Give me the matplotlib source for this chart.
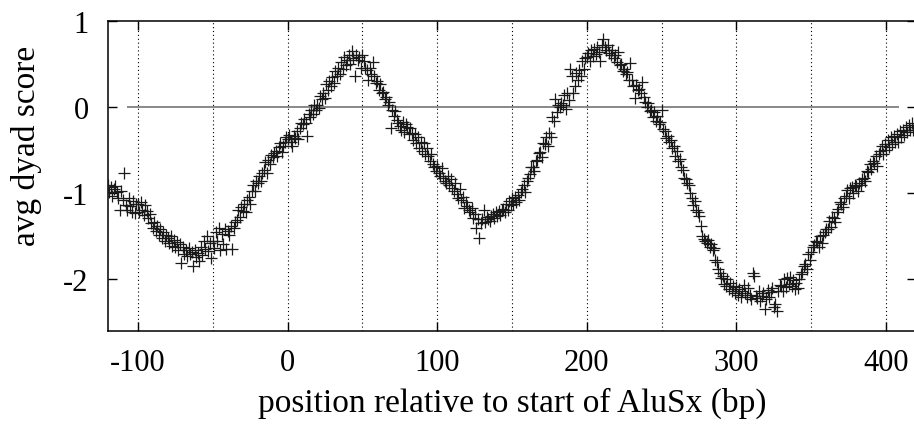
import numpy as np
import matplotlib
matplotlib.use("Agg")
import matplotlib.pyplot as plt

# positions (bp) relative to start of AluSx, one point per bp
x_start = -120
x_end = 418

# avg dyad score, 10 values per row starting at -120
scores = [
    -0.90, -0.98, -0.93, -1.03, -0.95, -0.92, -0.99, -1.05, -1.19, -0.97,   # -120
    -1.08, -0.76, -1.14, -1.20, -1.06, -1.15, -1.22, -1.09, -1.23, -1.12,   # -110
    -1.13, -1.22, -1.10, -1.19, -1.25, -1.14, -1.21, -1.29, -1.24, -1.35,   # -100
    -1.40, -1.33, -1.44, -1.38, -1.48, -1.42, -1.52, -1.45, -1.55, -1.48,   # -90
    -1.52, -1.58, -1.50, -1.61, -1.54, -1.63, -1.57, -1.66, -1.59, -1.81,   # -80
    -1.62, -1.70, -1.66, -1.73, -1.64, -1.71, -1.68, -1.85, -1.66, -1.74,   # -70
    -1.69, -1.79, -1.62, -1.72, -1.55, -1.65, -1.50, -1.67, -1.58, -1.75,   # -60
    -1.55, -1.64, -1.45, -1.56, -1.40, -1.66, -1.47, -1.59, -1.42, -1.65,   # -50
    -1.44, -1.48, -1.38, -1.65, -1.40, -1.33, -1.31, -1.20, -1.28, -1.16,   # -40
    -1.21, -1.13, -1.22, -1.08, -1.04, -1.12, -0.97, -0.90, -0.97, -0.86,   # -30
    -0.88, -0.80, -0.86, -0.76, -0.73, -0.64, -0.76, -0.61, -0.66, -0.56,   # -20
    -0.58, -0.53, -0.51, -0.57, -0.46, -0.42, -0.52, -0.45, -0.41, -0.35,   # -10
    -0.37, -0.32, -0.40, -0.45, -0.33, -0.36, -0.28, -0.37, -0.24, -0.19,   # 0
    -0.20, -0.14, -0.18, -0.34, -0.08, -0.12, -0.03, -0.08, 0.02, -0.03,    # 10
    0.03, -0.01, 0.13, 0.09, 0.16, 0.11, 0.27, 0.20, 0.30, 0.25,            # 20
    0.35, 0.28, 0.42, 0.36, 0.46, 0.39, 0.52, 0.44, 0.58, 0.49,             # 30
    0.55, 0.60, 0.50, 0.65, 0.57, 0.36, 0.60, 0.55, 0.58, 0.46,             # 40
    0.60, 0.53, 0.46, 0.43, 0.32, 0.46, 0.38, 0.52, 0.36, 0.28,             # 50
    0.30, 0.20, 0.27, 0.16, 0.18, 0.10, 0.12, 0.03, 0.06, -0.24,            # 60
    -0.03, -0.10, -0.04, -0.15, -0.18, -0.22, -0.26, -0.17, -0.29, -0.20,   # 70
    -0.23, -0.31, -0.24, -0.30, -0.38, -0.31, -0.42, -0.35, -0.47, -0.40,   # 80
    -0.51, -0.42, -0.54, -0.47, -0.57, -0.62, -0.55, -0.66, -0.69, -0.74,   # 90
    -0.68, -0.76, -0.80, -0.71, -0.82, -0.86, -0.88, -0.80, -0.90, -0.84,   # 100
    -0.94, -0.97, -0.88, -1.01, -1.05, -0.95, -1.08, -1.04, -1.17, -1.10,   # 110
    -1.15, -1.20, -1.22, -1.17, -1.29, -1.24, -1.40, -1.30, -1.52, -1.35,   # 120
    -1.30, -1.19, -1.33, -1.28, -1.30, -1.32, -1.26, -1.24, -1.29, -1.22,   # 130
    -1.27, -1.21, -1.25, -1.19, -1.18, -1.22, -1.13, -1.19, -1.09, -1.14,   # 140
    -1.06, -1.12, -1.04, -1.10, -1.02, -1.08, -0.98, -0.95, -0.90, -0.99,   # 150
    -0.86, -0.82, -0.78, -0.70, -0.70, -0.74, -0.62, -0.61, -0.53, -0.52,   # 160
    -0.58, -0.42, -0.43, -0.35, -0.45, -0.30, -0.35, -0.12, -0.16, 0.09,    # 170
    -0.06, 0.02, 0.00, 0.05, 0.03, 0.14, -0.02, 0.16, 0.08, 0.44,           # 180
    0.36, 0.16, 0.24, 0.40, 0.32, 0.43, 0.36, 0.54, 0.44, 0.57,             # 190
    0.58, 0.63, 0.54, 0.66, 0.59, 0.68, 0.62, 0.70, 0.64, 0.53,             # 200
    0.72, 0.79, 0.70, 0.66, 0.72, 0.63, 0.60, 0.66, 0.57, 0.61,             # 210
    0.52, 0.64, 0.49, 0.50, 0.42, 0.44, 0.38, 0.41, 0.32, 0.51,             # 220
    0.31, 0.25, 0.11, 0.26, 0.20, 0.21, 0.16, 0.29, 0.12, 0.06,             # 230
    0.00, 0.05, -0.05, -0.03, -0.12, -0.06, -0.16, -0.10, -0.20, -0.17,     # 240
    -0.03, -0.25, -0.28, -0.36, -0.34, -0.40, -0.38, -0.48, -0.45, -0.57,   # 250
    -0.51, -0.62, -0.60, -0.69, -0.73, -0.82, -0.84, -0.88, -0.90, -1.00,   # 260
    -1.06, -1.14, -1.09, -1.20, -1.22, -1.27, -1.38, -1.50, -1.53, -1.55,   # 270
    -1.58, -1.54, -1.63, -1.59, -1.66, -1.64, -1.77, -1.80, -1.88, -1.93,   # 280
    -1.98, -1.96, -2.05, -2.08, -2.00, -2.11, -2.04, -2.14, -2.08, -2.16,   # 290
    -2.09, -2.18, -2.11, -2.20, -2.13, -2.06, -2.16, -2.21, -2.10, -2.18,   # 300
    -2.23, -1.93, -1.96, -2.19, -2.22, -2.14, -2.25, -2.19, -2.16, -2.35,   # 310
    -2.23, -2.12, -2.20, -2.15, -2.10, -2.32, -2.29, -2.37, -2.14, -2.06,   # 320
    -2.08, -2.13, -2.00, -2.09, -1.98, -2.05, -1.97, -2.08, -2.01, -2.11,   # 330
    -2.04, -2.10, -2.00, -1.94, -1.91, -1.84, -1.82, -1.88, -1.70, -1.77,   # 340
    -1.68, -1.63, -1.60, -1.56, -1.57, -1.62, -1.50, -1.58, -1.48, -1.45,   # 350
    -1.42, -1.41, -1.32, -1.39, -1.28, -1.29, -1.33, -1.22, -1.18, -1.10,   # 360
    -1.12, -1.16, -1.05, -1.03, -0.96, -1.06, -0.94, -0.93, -1.00, -0.91,   # 370
    -0.92, -0.97, -0.88, -0.90, -0.83, -0.82, -0.86, -0.74, -0.75, -0.66,   # 380
    -0.72, -0.62, -0.65, -0.57, -0.68, -0.55, -0.51, -0.45, -0.54, -0.43,   # 390
    -0.50, -0.38, -0.46, -0.35, -0.43, -0.33, -0.40, -0.31, -0.41, -0.28,   # 400
    -0.35, -0.26, -0.32, -0.23, -0.29, -0.21, -0.26, -0.19, -0.27,          # 410
]
positions = np.arange(x_start, x_end + 1)

xticks = [-100, 0, 100, 200, 300, 400]
xgrid = [-100, -50, 0, 50, 100, 150, 200, 250, 300, 350, 400]
yticks = [1, 0, -1, -2]

plt.rcParams['font.family'] = ['Liberation Serif', 'DejaVu Serif']

fig = plt.figure(figsize=(9.14, 4.27), dpi=100)
ax = fig.add_axes([108 / 914, 95 / 427, 808 / 914, 310 / 427])

for gx in xgrid:
    ax.axvline(gx, color='black', lw=0.8, linestyle=(0, (1, 2.5)), zorder=1)
ax.axhline(0, xmin=0.025, xmax=0.978, color='#888888', lw=1.4, zorder=1)

ax.plot(positions, scores, linestyle='none', marker='+', markersize=8.5,
        markeredgewidth=0.9, color='#1a1a1a', zorder=3)

ax.set_xlim(-120, 420)
ax.set_ylim(-2.6, 1.0)
ax.set_xticks(xticks)
ax.set_xticklabels([str(t) for t in xticks])
ax.set_yticks(yticks)
ax.set_yticklabels([str(t) for t in yticks])
ax.tick_params(direction='in', length=6.5, width=1.0, top=True, right=True,
               labelsize=22, colors='black')
ax.tick_params(axis='x', pad=12)
ax.tick_params(axis='y', pad=14)
for sp in ax.spines.values():
    sp.set_linewidth(1.1)

ax.set_xlabel('position relative to start of AluSx (bp)', fontsize=24, labelpad=7)
ax.set_ylabel('avg dyad score', fontsize=24)
ax.yaxis.set_label_coords(-0.082, 0.60)

fig.savefig('out.png', dpi=100)
